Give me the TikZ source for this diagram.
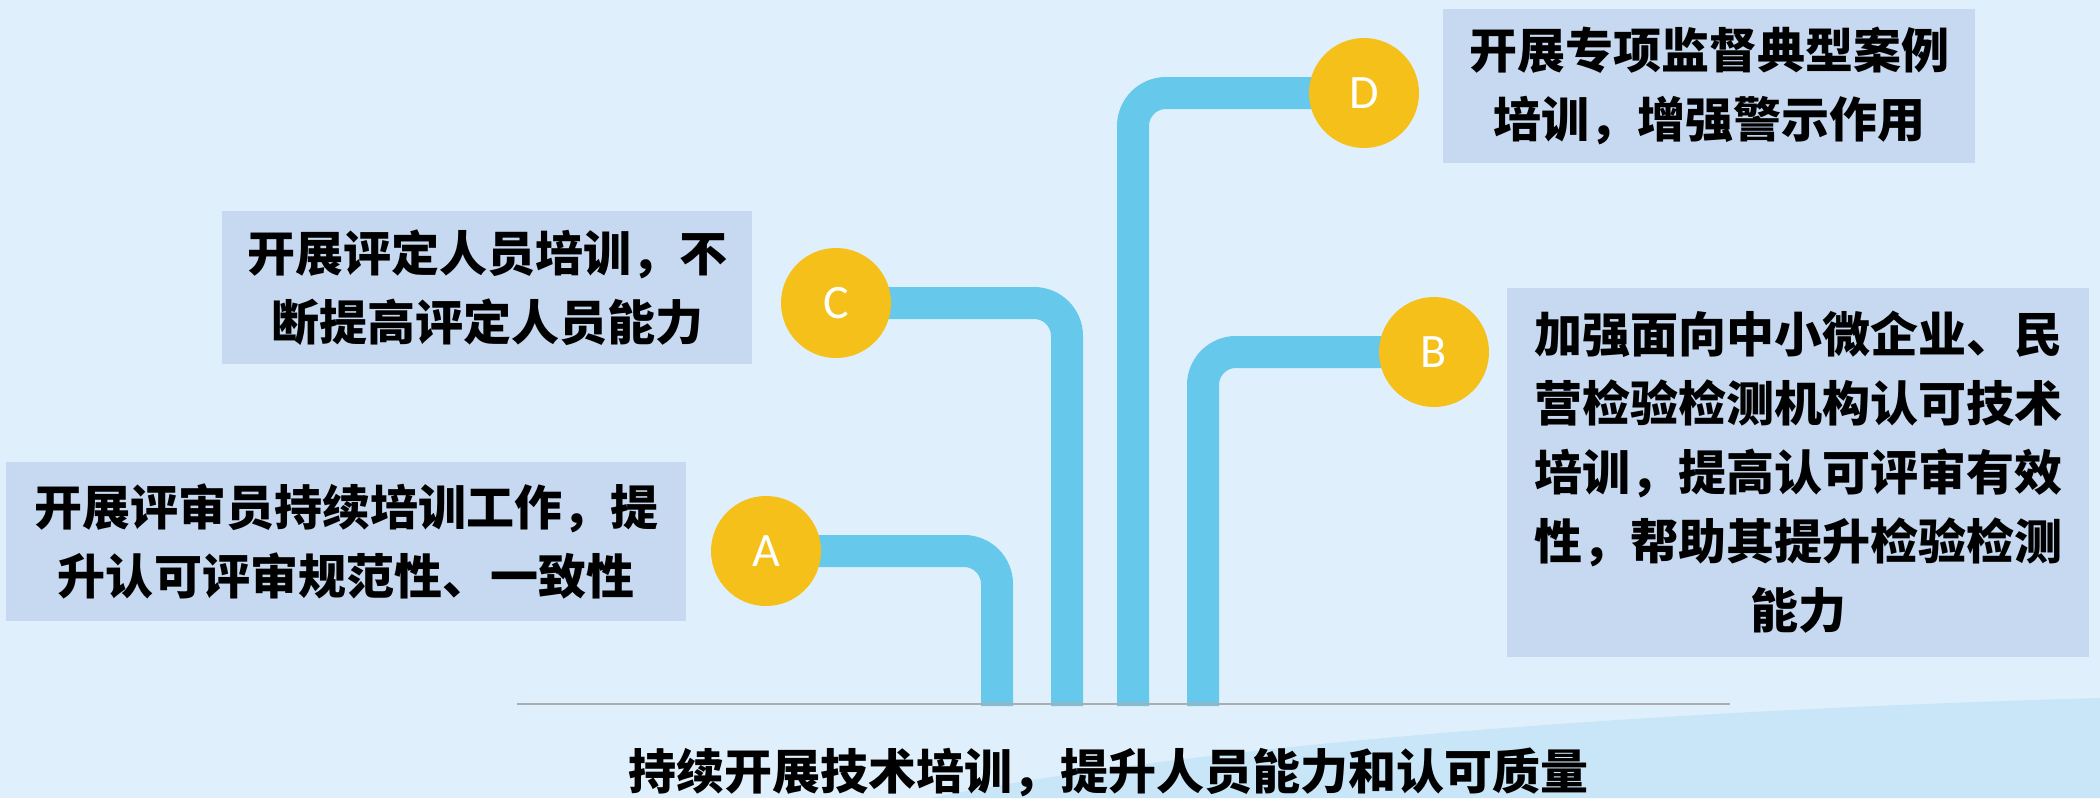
\documentclass[tikz,border=0pt]{standalone}
\usepackage{fontspec}
\newfontfamily\cjk{Noto Sans CJK SC Black}
\newfontfamily\latinsans{Carlito}
\pgfdeclarelayer{back}
\pgfdeclarelayer{pipes}
\pgfsetlayers{back,pipes,main}
\definecolor{bgcol}{HTML}{DFF0FC}
\definecolor{wavecol}{HTML}{C9E6F8}
\definecolor{boxcol}{HTML}{C6D9F0}
\definecolor{pipecol}{HTML}{66C8EB}
\definecolor{dotcol}{HTML}{F4C019}
\definecolor{basecol}{HTML}{ABADAF}
\tikzset{
  textbox/.style={fill=boxcol, inner sep=0pt, align=center, text=black,
    font=\cjk\fontsize{48}{69}\selectfont},
  dot/.style={circle, fill=dotcol, minimum size=110pt, inner sep=0pt, text=white,
    font=\latinsans\fontsize{48}{48}\selectfont},
  pipe/.style={draw=pipecol, line width=32pt, rounded corners=33pt, line cap=butt},
  titletext/.style={inner sep=0pt, font=\cjk\fontsize{48}{58}\selectfont}
}
\begin{document}
\begin{tikzpicture}[x=1pt,y=-1pt]
\begin{pgfonlayer}{back}
  \fill[bgcol] (0,0) rectangle (2100,798);
  \fill[wavecol] (930,798) .. controls (1120,760) and (1500,715) .. (2100,698) -- (2100,798) -- cycle;
\end{pgfonlayer}
\useasboundingbox (0,0) rectangle (2100,798);

% circles
\node[dot] (cA) at (766,551) {A};
\node[dot] (cC) at (836,303) {C};
\node[dot] (cD) at (1364,93) {D};
\node[dot] (cB) at (1434,352) {B};

% pipe ends on the base line
\coordinate (eA) at (997,706);
\coordinate (eC) at (1067,706);
\coordinate (eD) at (1133,706);
\coordinate (eB) at (1203,706);
\coordinate (lineL) at (517,704);
\coordinate (lineR) at (1730,704);

\begin{pgfonlayer}{pipes}
  \draw[pipe] (cA.center) -| (eA);
  \draw[pipe] (cC.center) -| (eC);
  \draw[pipe] (cD.center) -| (eD);
  \draw[pipe] (cB.center) -| (eB);
  \draw[draw=basecol, line width=2.5pt] (lineL) -- (lineR);
\end{pgfonlayer}

% text boxes
\node[textbox, minimum width=680pt, minimum height=159pt] (tA) at (346,541.5)
  {开展评审员持续培训工作，提\\升认可评审规范性、一致性};
\node[textbox, minimum width=530pt, minimum height=153pt] (tC) at (487,287.5)
  {开展评定人员培训，不\\断提高评定人员能力};
\node[textbox, minimum width=532pt, minimum height=154pt] (tD) at (1709,86)
  {开展专项监督典型案例\\培训，增强警示作用};
\node[textbox, minimum width=582pt, minimum height=369pt] (tB) at (1798,472.5)
  {加强面向中小微企业、民\\营检验检测机构认可技术\\培训，提高认可评审有效\\性，帮助其提升检验检测\\能力};

% title
\node[titletext] (title) at (1108,772) {持续开展技术培训，提升人员能力和认可质量};
\end{tikzpicture}
\end{document}
